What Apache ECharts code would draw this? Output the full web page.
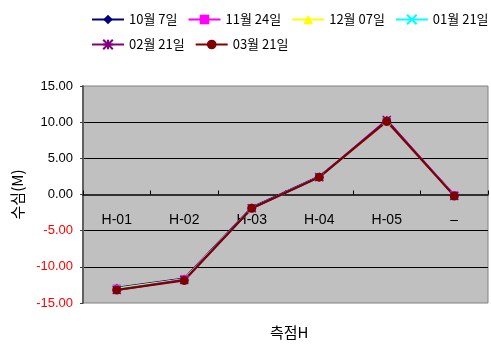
<!DOCTYPE html>
<html>
<head>
<meta charset="utf-8">
<script src="https://cdn.jsdelivr.net/npm/echarts@6/dist/echarts.min.js"></script>
<style>
  html, body { margin: 0; padding: 0; background: #fff; }
  #chart { width: 491px; height: 344px; }
</style>
</head>
<body>
<div id="chart"></div>
<script>
// Survey stations along the section
const stations = ['H-01', 'H-02', 'H-03', 'H-04', 'H-05', '–'];

// Depth readings (M) per survey date
const oct07 = [-12.9, -11.6, -1.8, 2.5, 10.1, -0.1];
const nov24 = [-13.0, -11.7, -1.9, 2.4, 10.2, -0.1];
const dec07 = [-13.0, -11.7, -1.9, 2.4, 10.1, -0.2];
const jan21 = [-13.1, -11.8, -1.9, 2.4, 10.2, -0.2];
const feb21 = [-13.2, -11.8, -1.9, 2.4, 10.3, -0.2];
const mar21 = [-13.2, -11.9, -1.9, 2.4, 10.1, -0.2];

const seriesNames = ['10월 7일', '11월 24일', '12월 07일', '01월 21일', '02월 21일', '03월 21일'];
const seriesValues = [oct07, nov24, dec07, jan21, feb21, mar21];
const seriesColors = ['#000080', '#FF00FF', '#FFFF00', '#00FFFF', '#800080', '#800000'];
const seriesSymbols = [
  'diamond',
  'rect',
  'triangle',
  'path://M0,0 L10,10 M10,0 L0,10',
  'path://M5,0 L5,10 M0,0 L10,10 M10,0 L0,10 M0,5 L10,5',
  'circle'
];

const yTicks = [-15, -10, -5, 0, 5, 10, 15];

const chart = echarts.init(document.getElementById('chart'), null, { renderer: 'canvas' });

const legendText = { fontFamily: 'Noto Sans CJK KR', fontSize: 13, color: '#000' };

// plot box
const gridTop = 86, gridBottom = 41, chartH = 344;
const plotH = chartH - gridTop - gridBottom;

chart.setOption({
  animation: false,
  backgroundColor: '#ffffff',
  textStyle: { fontFamily: 'Liberation Sans' },
  legend: [
    {
      data: seriesNames.slice(0, 4),
      left: 86, top: 8, width: 405,
      itemWidth: 32, itemHeight: 12, itemGap: 10,
      textStyle: legendText
    },
    {
      data: seriesNames.slice(4),
      left: 86, top: 33, width: 405,
      itemWidth: 32, itemHeight: 12, itemGap: 10,
      textStyle: legendText
    }
  ],
  title: {
    text: '측점H',
    left: 265,
    top: 320,
    textStyle: { fontFamily: 'Noto Sans CJK KR', fontSize: 15, fontWeight: 'normal', color: '#000' }
  },
  grid: {
    left: 83, right: 3, top: gridTop, bottom: gridBottom,
    show: true,
    backgroundColor: '#C0C0C0',
    borderColor: '#808080',
    borderWidth: 1
  },
  xAxis: {
    type: 'category',
    data: stations,
    boundaryGap: true,
    offset: -plotH / 2,
    axisLine: { onZero: false, lineStyle: { color: '#000', width: 1.5 } },
    axisTick: { show: true, inside: true, length: 4, lineStyle: { color: '#000' } },
    axisLabel: { margin: 19, fontSize: 14, color: '#000', fontFamily: 'Liberation Sans' },
    splitLine: { show: false }
  },
  yAxis: {
    type: 'value',
    min: -15, max: 15, interval: 5,
    name: '수심(M)',
    nameLocation: 'middle',
    nameRotate: 90,
    nameGap: 54,
    nameTextStyle: { fontFamily: 'Noto Sans CJK KR', fontSize: 15, color: '#000' },
    axisLine: { show: true, lineStyle: { color: '#606060', width: 2 } },
    axisTick: { show: true, inside: false, length: 3, lineStyle: { color: '#404040' } },
    axisLabel: {
      fontSize: 13,
      margin: 10,
      fontFamily: 'Liberation Sans',
      formatter: v => v.toFixed(2),
      color: v => (v < 0 ? '#FF0000' : '#000000')
    },
    splitLine: {
      show: true,
      lineStyle: {
        color: yTicks.map(t => (t === -15 || t === 15 || t === 0) ? 'rgba(0,0,0,0)' : '#000'),
        width: 1.2
      }
    }
  },
  series: seriesNames.map((name, i) => ({
    name,
    type: 'line',
    data: seriesValues[i],
    symbol: seriesSymbols[i],
    symbolSize: i === 5 ? 9 : 8,
    showAllSymbol: true,
    lineStyle: { color: seriesColors[i], width: 2 },
    itemStyle: {
      color: seriesColors[i],
      borderColor: seriesColors[i],
      borderWidth: (i === 3 || i === 4) ? 1.5 : 0
    }
  }))
});
</script>
</body>
</html>
